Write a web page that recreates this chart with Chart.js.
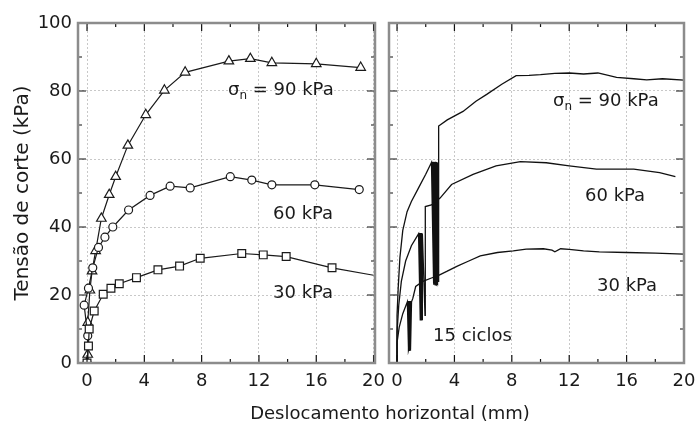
<!DOCTYPE html>
<html>
<head>
<meta charset="utf-8">
<script src="https://cdn.jsdelivr.net/npm/chart.js@4.4.0/dist/chart.umd.min.js"></script>
<style>
    body { margin: 0; background: #fff; width: 699px; height: 425px; overflow: hidden; position: relative; font-family: 'DejaVu Sans', sans-serif; color: #1a1a1a; }
    canvas { position: absolute; top: 0; }
    #leftChart { left: 0; }
    #rightChart { left: 380px; }
    .lbl { position: absolute; font-size: 18px; line-height: 18px; white-space: nowrap; }
    .lbl sub { font-size: 12px; vertical-align: -4px; line-height: 0; }
    #xTitle { position: absolute; left: 0; width: 780px; top: 403px; text-align: center; font-size: 18px; line-height: 20px; }
</style>
</head>
<body>
<canvas id="leftChart" width="400" height="425"></canvas>
<canvas id="rightChart" width="319" height="425"></canvas>
<div class="lbl" style="left:228px; top:80px;">σ<sub>n</sub> = 90 kPa</div>
<div class="lbl" style="left:273px; top:204px;">60 kPa</div>
<div class="lbl" style="left:273px; top:283px;">30 kPa</div>
<div class="lbl" style="left:553px; top:91px;">σ<sub>n</sub> = 90 kPa</div>
<div class="lbl" style="left:585px; top:186px;">60 kPa</div>
<div class="lbl" style="left:597px; top:276px;">30 kPa</div>
<div class="lbl" style="left:433px; top:326px;">15 ciclos</div>
<div id="xTitle">Deslocamento horizontal (mm)</div>
<script>
// axis ticks
const xMajor = [0, 4, 8, 12, 16, 20];
const xMinor = [2, 6, 10, 14, 18];
const yMajor = [0, 20, 40, 60, 80, 100];
const yMinor = [10, 30, 50, 70, 90];

// left panel: monotonic tests (mm, kPa)
const left90X = [0, 0.05, 0.05, 0.2, 0.35, 0.6, 1.0, 1.55, 2.0, 2.85, 4.1, 5.4, 6.85, 9.9, 11.4, 12.9, 16.0, 19.1];
const left90Y = [0, 2.5, 11.9, 21.4, 27, 33, 42.5, 49.5, 54.8, 64, 73, 80.2, 85.5, 88.8, 89.5, 88.3, 88, 86.9];
const left60X = [0, 0.05, -0.2, 0.1, 0.4, 0.8, 1.25, 1.8, 2.9, 4.4, 5.8, 7.2, 10.0, 11.5, 12.9, 15.9, 19.0];
const left60Y = [0, 8, 17, 22, 28, 34, 37, 40, 45, 49.3, 52, 51.5, 54.8, 53.8, 52.4, 52.4, 51];
const left30X = [0, 0.1, 0.15, 0.5, 1.13, 1.67, 2.25, 3.45, 4.95, 6.46, 7.9, 10.8, 12.3, 13.9, 17.1, 20.0];
const left30Y = [0, 5, 10, 15.3, 20.2, 22, 23.3, 25.1, 27.4, 28.5, 30.8, 32.2, 31.8, 31.3, 28, 25.8];

// right panel: 15 cycles then monotonic shear
const right90X = [0, 0, 0.08, 0.2, 0.4, 0.7, 1.0, 1.5, 2.0, 2.40,
    2.55, 2.42, 2.56, 2.45, 2.58, 2.48, 2.60, 2.51, 2.62, 2.54, 2.64, 2.57, 2.66, 2.60, 2.68,
    2.63, 2.70, 2.66, 2.72, 2.69, 2.74, 2.72, 2.76, 2.75, 2.78, 2.78, 2.80, 2.81, 2.82, 2.84,
    2.88, 2.90, 3.5, 4.6, 5.5, 6.25, 7.3, 8.3, 9.2, 10.0, 11.0, 12.0, 13.0, 14.0, 15.3, 16.5, 17.4, 18.5, 20.0];
const right90Y = [0, 14, 22, 31, 39, 44.5, 47.5, 51.5, 55.5, 59,
    23.5, 59, 23, 59.2, 23.4, 59, 23, 59.1, 23.2, 59, 23.5, 59.2, 23, 59, 23.3,
    59.1, 23, 59, 23.4, 59.2, 23.1, 59, 23.5, 59, 23, 59.1, 23.3, 59, 23.2, 59,
    24, 69.7, 71.5, 74, 77, 79, 82, 84.5, 84.6, 84.8, 85.2, 85.3, 85, 85.3, 84, 83.6, 83.3, 83.6, 83.2];
const right60X = [0, 0, 0.12, 0.3, 0.6, 1.0, 1.50,
    1.62, 1.52, 1.63, 1.54, 1.64, 1.56, 1.65, 1.58, 1.66, 1.60, 1.67, 1.62, 1.68, 1.64, 1.69,
    1.66, 1.70, 1.68, 1.71, 1.70, 1.72, 1.72, 1.73, 1.74, 1.74, 1.76, 1.75, 1.78, 1.76, 1.80,
    1.95, 1.97, 2.4, 3.0, 3.8, 5.3, 6.9, 8.6, 10.4, 12.0, 13.9, 16.5, 18.3, 19.4];
const right60Y = [0, 9, 17, 24, 30, 34.5, 38,
    12.5, 38, 13, 38.2, 12.6, 38, 13, 38.1, 12.5, 38, 12.8, 38.2, 13, 38, 12.6,
    38.1, 12.9, 38, 12.5, 38.2, 13, 38, 12.7, 38.1, 12.6, 38, 13, 38.1, 12.8, 38,
    14, 46, 46.5, 48.5, 52.5, 55.5, 58, 59.2, 58.9, 58, 57, 57, 56, 54.8];
const right30X = [0, 0, 0.15, 0.4, 0.72,
    0.80, 0.73, 0.81, 0.75, 0.82, 0.77, 0.83, 0.79, 0.84, 0.81, 0.85, 0.83, 0.86, 0.85, 0.87,
    0.87, 0.88, 0.89, 0.89, 0.91, 0.90, 0.93, 0.91, 0.95, 0.92, 0.97, 0.93, 0.99, 0.94, 1.01,
    1.1, 1.3, 1.8, 2.4, 2.9, 3.5, 4.2, 5.0, 5.8, 7.0, 8.1, 9.0, 10.2, 10.8, 11.0, 11.4, 12.0, 13.0, 14.1, 16.0, 18.0, 20.0];
const right30Y = [0, 6, 10.5, 14.5, 18,
    4, 18, 3.6, 18.1, 4.2, 18, 3.8, 18.2, 4, 18, 3.5, 18.1, 4.1, 18, 3.8,
    18.2, 4, 18, 3.7, 18.1, 4.2, 18, 3.9, 18.2, 4, 18, 3.6, 18.1, 4.1, 18,
    19, 22.5, 24, 25, 25.8, 27, 28.5, 30, 31.5, 32.5, 33, 33.5, 33.6, 33.2, 32.7, 33.6, 33.4, 33, 32.7, 32.5, 32.3, 32];

const font = { family: "'DejaVu Sans', sans-serif", size: 18 };
const titleFont = { family: "'DejaVu Sans', sans-serif", size: 20 };
const textColor = '#1a1a1a';

function zip(xs, ys) {
    return xs.map((x, i) => ({ x, y: ys[i] }));
}

const frameTicks = {
    id: 'frameTicks',
    afterDatasetsDraw(chart) {
        const { ctx, chartArea: a, scales: { x, y } } = chart;
        ctx.save();
        ctx.strokeStyle = '#111';
        ctx.lineWidth = 1.2;
        ctx.beginPath();
        const xTick = (v, len) => {
            const px = x.getPixelForValue(v);
            ctx.moveTo(px, a.bottom); ctx.lineTo(px, a.bottom - len);
            ctx.moveTo(px, a.top); ctx.lineTo(px, a.top + len);
        };
        const yTick = (v, len) => {
            const py = y.getPixelForValue(v);
            ctx.moveTo(a.left, py); ctx.lineTo(a.left + len, py);
            ctx.moveTo(a.right, py); ctx.lineTo(a.right - len, py);
        };
        xMajor.forEach((v) => xTick(v, 8));
        xMinor.forEach((v) => xTick(v, 4));
        yMajor.forEach((v) => yTick(v, 8));
        yMinor.forEach((v) => yTick(v, 4));
        ctx.stroke();
        ctx.strokeStyle = '#8c8c8c';
        ctx.lineWidth = 2.5;
        ctx.strokeRect(a.left, a.top, a.right - a.left, a.bottom - a.top);
        ctx.restore();
    },
};

function makeScales(xMin, xMax, yWidth, showY) {
    return {
        x: {
            type: 'linear', min: xMin, max: xMax,
            afterBuildTicks: (s) => { s.ticks = xMajor.map((v) => ({ value: v })); },
            afterFit: (s) => { s.height = 62; s.paddingLeft = 0; s.paddingRight = 0; },
            grid: { color: '#c8c8c8', drawTicks: false, lineWidth: 1 },
            border: { display: false, dash: [2, 2] },
            ticks: { font, color: textColor, padding: 8, maxRotation: 0, autoSkip: false },
        },
        y: {
            min: 0, max: 100,
            afterBuildTicks: (s) => { s.ticks = yMajor.map((v) => ({ value: v })); },
            afterFit: (s) => { s.width = yWidth; },
            grid: { color: '#c8c8c8', drawTicks: false, lineWidth: 1 },
            border: { display: false, dash: [2, 2] },
            ticks: { display: showY, font, color: textColor, padding: 6 },
            title: {
                display: showY, text: 'Tensão de corte (kPa)', font: titleFont, color: textColor,
                padding: { top: 11, bottom: 0 },
            },
        },
    };
}

const baseOptions = {
    responsive: false,
    animation: false,
    plugins: { legend: { display: false }, tooltip: { enabled: false } },
};

function markerSet(xs, ys, style, radius) {
    return {
        data: zip(xs, ys),
        borderColor: '#1a1a1a', borderWidth: 1.2,
        pointStyle: style,
        pointRadius: xs.map((x) => (x >= 20 ? 0 : radius)),
        pointBackgroundColor: '#fff', pointBorderColor: '#1a1a1a', pointBorderWidth: 1.2,
        tension: 0,
    };
}

function curveSet(xs, ys) {
    return {
        data: zip(xs, ys),
        borderColor: '#111', borderWidth: 1.3,
        pointRadius: 0, tension: 0,
    };
}

new Chart(document.getElementById('leftChart'), {
    type: 'line',
    data: {
        datasets: [
            markerSet(left30X, left30Y, 'rect', 5.5),
            markerSet(left60X, left60Y, 'circle', 4),
            markerSet(left90X, left90Y, 'triangle', 5.5),
        ],
    },
    options: {
        ...baseOptions,
        layout: { padding: { top: 23, right: 25, left: 0, bottom: 0 } },
        scales: makeScales(-0.63, 20.1, 78, true),
    },
    plugins: [frameTicks],
});

new Chart(document.getElementById('rightChart'), {
    type: 'line',
    data: {
        datasets: [
            curveSet(right30X, right30Y),
            curveSet(right60X, right60Y),
            curveSet(right90X, right90Y),
        ],
    },
    options: {
        ...baseOptions,
        layout: { padding: { top: 23, right: 15, left: 0, bottom: 0 } },
        scales: makeScales(-0.56, 20, 9, false),
    },
    plugins: [frameTicks],
});
</script>
</body>
</html>
